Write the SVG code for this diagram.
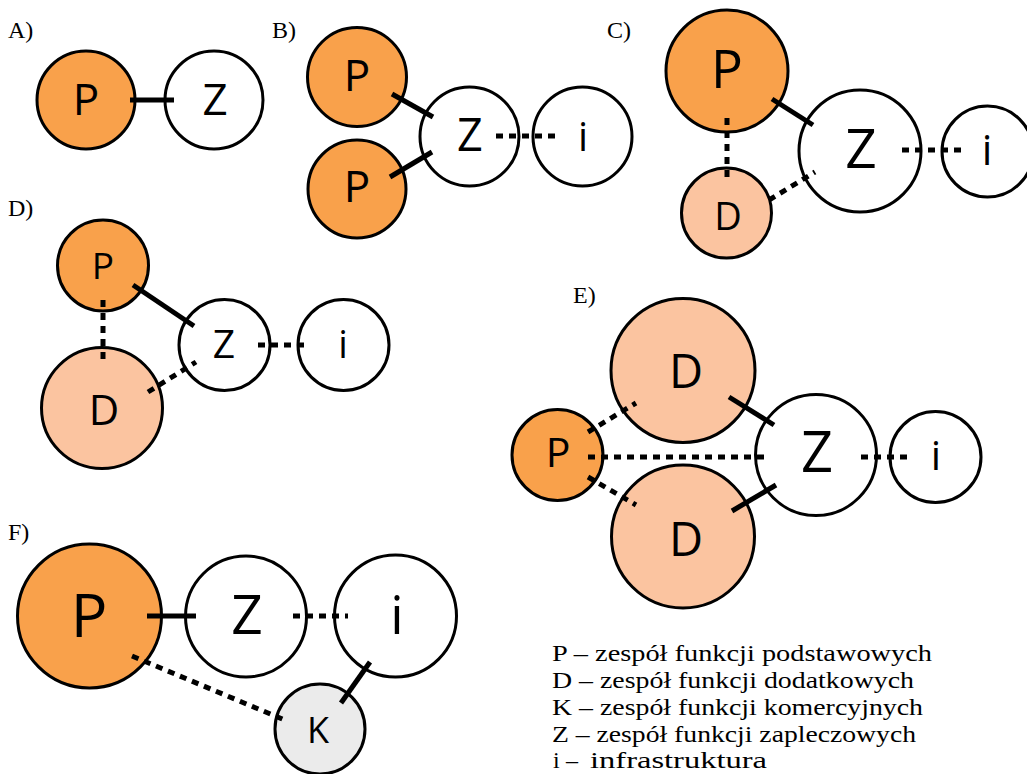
<svg xmlns="http://www.w3.org/2000/svg" width="1027" height="774" viewBox="0 0 1027 774">
<style>
.n{stroke:#000;stroke-width:3}
.p{fill:#F9A14B}
.d{fill:#FBC4A0}
.w{fill:#fff}
.k{fill:#EBEBEB}
.t{font-family:"Open Sans","Noto Sans",sans-serif;text-anchor:middle;fill:#000}
.lab{font-family:"Liberation Serif",serif;font-size:24px;fill:#000}
.leg{font-family:"Liberation Serif",serif;font-size:24px;fill:#000}
.s{stroke:#000;stroke-width:5;fill:none}
.dt{stroke:#000;stroke-width:5;fill:none;stroke-dasharray:7 6}
</style>
<rect width="1027" height="774" fill="#fff"/>
<g id="labels">
<text class="lab" x="8" y="38">A)</text>
<text class="lab" x="272" y="38">B)</text>
<text class="lab" x="607" y="38">C)</text>
<text class="lab" x="8" y="216">D)</text>
<text class="lab" x="573" y="303">E)</text>
<text class="lab" x="8" y="540">F)</text>
</g>
<!-- A -->
<g id="A-P"><circle class="n p" cx="86" cy="100" r="49"/><text class="t" x="86" y="115" font-size="44">P</text></g>
<g id="A-Z"><circle class="n w" cx="214" cy="100" r="49"/><text class="t" x="215" y="115" font-size="44">Z</text></g>
<!-- B -->
<g id="B-P1"><circle class="n p" cx="357" cy="77" r="49.5"/><text class="t" x="357" y="91" font-size="44">P</text></g>
<g id="B-P2"><circle class="n p" cx="357" cy="189" r="49"/><text class="t" x="357" y="202" font-size="44">P</text></g>
<g id="B-Z"><circle class="n w" cx="469.5" cy="136.5" r="49.5"/><text class="t" x="470" y="151" font-size="45">Z</text></g>
<g id="B-i"><circle class="n w" cx="582.5" cy="136.5" r="49.5"/><text class="t" x="583" y="151" font-size="40">i</text></g>
<!-- C -->
<g id="C-P"><circle class="n p" cx="727" cy="71" r="61"/><text class="t" x="727" y="88" font-size="53">P</text></g>
<g id="C-Z"><circle class="n w" cx="860" cy="151" r="61"/><text class="t" x="861" y="168" font-size="55">Z</text></g>
<g id="C-i"><circle class="n w" cx="987.5" cy="151.5" r="45.5"/><text class="t" x="987" y="165" font-size="42">i</text></g>
<g id="C-D"><circle class="n d" cx="726.5" cy="213" r="45"/><text class="t" x="728" y="230" font-size="38">D</text></g>
<!-- D -->
<g id="D-P"><circle class="n p" cx="103" cy="265.5" r="45.5"/><text class="t" x="103" y="279" font-size="37">P</text></g>
<g id="D-D"><circle class="n d" cx="102" cy="408" r="60.5"/><text class="t" x="104" y="425" font-size="42">D</text></g>
<g id="D-Z"><circle class="n w" cx="224.5" cy="345" r="45.5"/><text class="t" x="224" y="358" font-size="39">Z</text></g>
<g id="D-i"><circle class="n w" cx="343.5" cy="345" r="45.5"/><text class="t" x="343" y="358" font-size="38">i</text></g>
<!-- E -->
<g id="E-P"><circle class="n p" cx="557.5" cy="455" r="45.5"/><text class="t" x="558" y="467" font-size="41">P</text></g>
<g id="E-D1"><circle class="n d" cx="683" cy="370.5" r="72"/><text class="t" x="686" y="388" font-size="47">D</text></g>
<g id="E-D2"><circle class="n d" cx="683" cy="536.5" r="71.5"/><text class="t" x="686" y="556" font-size="47">D</text></g>
<g id="E-Z"><circle class="n w" cx="816" cy="455" r="60.5"/><text class="t" x="817" y="472" font-size="56">Z</text></g>
<g id="E-i"><circle class="n w" cx="935.5" cy="457" r="45.5"/><text class="t" x="936" y="470" font-size="41">i</text></g>
<!-- F -->
<g id="F-P"><circle class="n p" cx="89.5" cy="616" r="72"/><text class="t" x="89" y="637" font-size="61">P</text></g>
<g id="F-Z"><circle class="n w" cx="246" cy="616.5" r="60.5"/><text class="t" x="247" y="634" font-size="55">Z</text></g>
<g id="F-i"><circle class="n w" cx="395.5" cy="616" r="61"/><text class="t" x="397" y="634" font-size="53">i</text></g>
<g id="F-K"><circle class="n k" cx="320" cy="729" r="45"/><text class="t" x="318" y="743" font-size="36">K</text></g>
<g id="connectors">
<line class="s" x1="130" y1="100" x2="174" y2="100"/>
<line class="s" x1="392" y1="94" x2="433" y2="117"/>
<line class="s" x1="390" y1="177" x2="432" y2="152"/>
<line class="dt" x1="496" y1="136" x2="556" y2="136"/>
<line class="s" x1="772" y1="99" x2="813" y2="125"/>
<line class="dt" x1="727" y1="118" x2="727" y2="179"/>
<line class="dt" x1="769" y1="200" x2="815" y2="172"/>
<line class="dt" x1="902" y1="150" x2="964" y2="150"/>
<line class="s" x1="133" y1="285" x2="194" y2="326"/>
<line class="dt" x1="103" y1="300" x2="103" y2="360"/>
<line class="dt" x1="148" y1="392" x2="196" y2="362"/>
<line class="dt" x1="258" y1="345" x2="308" y2="345"/>
<line class="s" x1="729" y1="397" x2="774" y2="425"/>
<line class="s" x1="732" y1="511" x2="776" y2="485"/>
<line class="dt" x1="588" y1="432" x2="636" y2="403"/>
<line class="dt" x1="588" y1="477" x2="636" y2="505"/>
<line class="dt" x1="588" y1="457" x2="770" y2="457"/>
<line class="dt" x1="861" y1="457" x2="912" y2="457"/>
<line class="s" x1="147" y1="616" x2="196" y2="616"/>
<line class="dt" x1="293" y1="616" x2="348" y2="616"/>
<line class="dt" x1="132" y1="656" x2="287" y2="721"/>
<line class="s" x1="370" y1="662" x2="341" y2="703"/>
</g>
<g id="legend">
<text class="leg" x="552" y="661" textLength="380" lengthAdjust="spacingAndGlyphs">P – zespół funkcji podstawowych</text>
<text class="leg" x="552" y="688" textLength="362" lengthAdjust="spacingAndGlyphs">D – zespół funkcji dodatkowych</text>
<text class="leg" x="552" y="715" textLength="371" lengthAdjust="spacingAndGlyphs">K – zespół funkcji komercyjnych</text>
<text class="leg" x="552" y="742" textLength="364" lengthAdjust="spacingAndGlyphs">Z – zespół funkcji zapleczowych</text>
<text class="leg" y="768"><tspan x="553">i</tspan><tspan x="566">–</tspan><tspan x="590" textLength="177" lengthAdjust="spacingAndGlyphs">infrastruktura</tspan></text>
</g>
</svg>
